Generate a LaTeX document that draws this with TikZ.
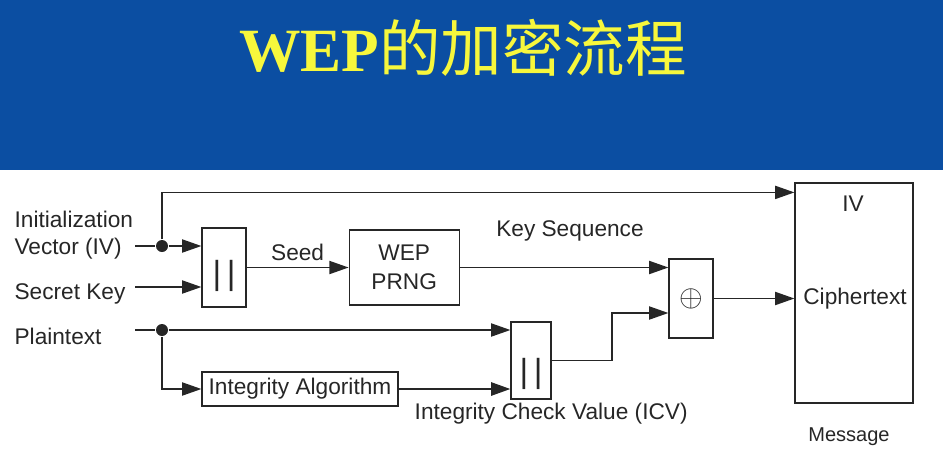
\documentclass[tikz,border=0pt]{standalone}
\usepackage{fontspec}
\setmainfont{Liberation Serif}
\setsansfont{Liberation Sans}
\newfontfamily\cjk{Noto Sans CJK SC}
\usetikzlibrary{arrows.meta,positioning}

\definecolor{slideblue}{HTML}{0B4EA2}
\definecolor{titleyellow}{HTML}{F7F73C}
\definecolor{ink}{HTML}{262626}

\begin{document}
\begin{tikzpicture}[x=0.02cm, y=-0.02cm, color=ink, line width=0.85pt,
    every node/.style={font=\sffamily\fontsize{12.9}{15.3}\selectfont},
    blk/.style={draw, line width=0.7pt, inner sep=0pt},
    dot/.style={circle, fill, inner sep=0pt, minimum size=0.24cm},
    bars/.style={font=\sffamily\fontsize{19}{19}\selectfont},
    arr/.style={-{Triangle[length=11pt,width=7.5pt]}},
    title/.style={text=titleyellow, font=\fontsize{35}{40}\selectfont}]
  \useasboundingbox (0,0) rectangle (943,454);
  \fill[slideblue] (0,0) rectangle (943,170);
  \node[title] (title) at (463,48) {\textbf{WEP}{\cjk 的加密流程}};

  % blocks
  \node[blk, minimum width=0.88cm, minimum height=1.58cm] (cat1) at (224,267.5) {};
  \node[bars, yshift=-0.17cm] (bars1) at (cat1) {|\,|};
  \node[blk, minimum width=2.2cm, minimum height=1.5cm, align=center,
        font=\sffamily\fontsize{12.9}{16.4}\selectfont]
        (prng) [right=2.04cm of cat1] {WEP\\PRNG};
  \node[blk, minimum width=0.88cm, minimum height=1.58cm] (xor) at (691,298.5) {};
  \node[font=\fontsize{17}{17}\selectfont] (xorsym) at (xor) {$\oplus$};
  \node[blk, minimum width=2.36cm, minimum height=4.4cm] (msg) at (854,293) {};
  \node[blk, minimum width=3.92cm, minimum height=0.68cm] (ia) at (300,389) {Integrity Algorithm};
  \node[blk, minimum width=0.8cm, minimum height=1.54cm] (cat2) at (531,360.5) {};
  \node[bars, yshift=-0.27cm] (bars2) at (cat2) {|\,|};

  % labels
  \node[anchor=west, align=left] (ivlbl) at (8,235) {Initialization\\Vector (IV)};
  \node[anchor=base west] (sklbl) at (8,299) {Secret Key};
  \node[anchor=base west] (ptlbl) at (8,344) {Plaintext};
  \node (keyseq) at (570,231) {Key Sequence};
  \node[below right=0.14cm and 0.19cm of ia.east] (icv) {Integrity Check Value (ICV)};
  \node (ivtxt) at (853,204) {IV};
  \node (ctxt) at (855,299) {Ciphertext};
  \node[font=\sffamily\fontsize{11.4}{13}\selectfont] (msglbl) at (849,437) {Message};

  % junctions
  \coordinate (ivin) at (135,246);
  \node[dot] (ivdot) at (162,246) {};
  \coordinate (skin) at (135,287);
  \coordinate (ptin) at (135,330);
  \node[dot] (ptdot) at (162,330) {};
  \coordinate (bend) at (612,313);

  % connectors
  \draw (ivin) -- (ivdot);
  \draw[arr] (ivdot) -- (ivdot -| cat1.west);
  \draw[arr] (ivdot) |- ([yshift=-0.2cm]msg.north west);
  \draw[arr] (skin) -- (skin -| cat1.west);
  \draw[arr] (cat1.east) -- (cat1.east -| prng.west) node[midway, above] {Seed};
  \draw[arr] (prng.east) -- (prng.east -| xor.west);
  \draw (ptin) -- (ptdot);
  \draw[arr] (ptdot) -- (ptdot -| cat2.west);
  \draw[arr] (ptdot) |- (ia.west);
  \draw[arr, line width=1.3pt] (ia.east) -- (ia.east -| cat2.west);
  \draw[arr] (cat2.east) -| (bend) -- (bend -| xor.west);
  \draw[arr] (xor.east) -- (xor.east -| msg.west);
\end{tikzpicture}
\end{document}
